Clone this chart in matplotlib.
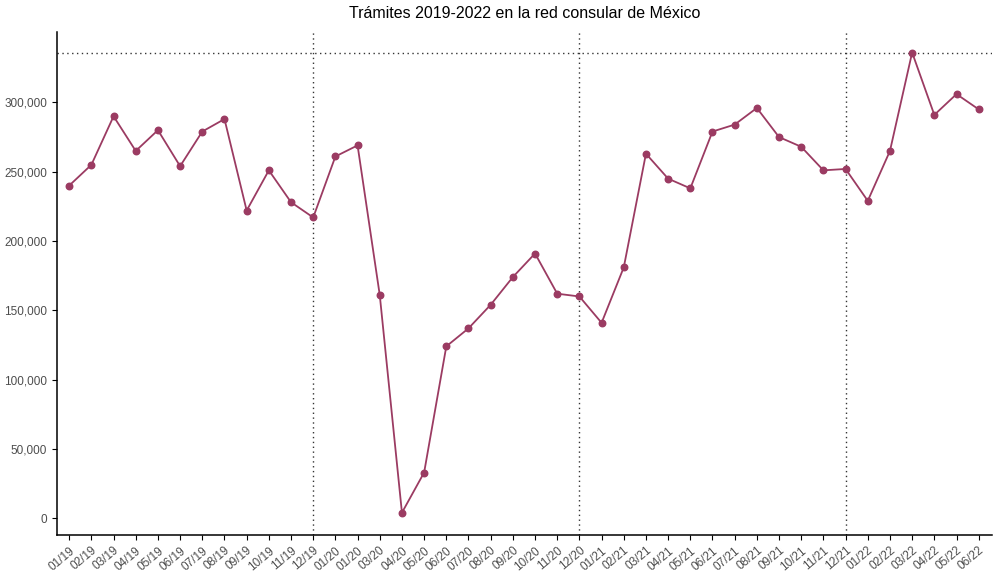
import matplotlib
matplotlib.use("Agg")
import matplotlib.pyplot as plt

labels = ["01/19","02/19","03/19","04/19","05/19","06/19","07/19","08/19","09/19","10/19","11/19","12/19",
          "01/20","01/20","03/20","04/20","05/20","06/20","07/20","08/20","09/20","10/20","11/20","12/20",
          "01/21","02/21","03/21","04/21","05/21","06/21","07/21","08/21","09/21","10/21","11/21","12/21",
          "01/22","02/22","03/22","04/22","05/22","06/22"]
values = [240000,255000,290000,265000,280000,254000,279000,288000,222000,251000,228000,217000,
          261000,269000,161000,4000,33000,124000,137000,154000,174000,191000,162000,160000,
          141000,181000,263000,245000,238000,279000,284000,296000,275000,268000,251000,252000,
          229000,265000,336000,291000,306000,295000]
vlines = ["12/19", "12/20", "12/21"]

plt.rcParams['font.family'] = ['Liberation Sans', 'DejaVu Sans']
fig = plt.figure(figsize=(10, 5.77), dpi=100)
ax = fig.add_axes([0.057, 0.073, 0.935, 0.872])
x = list(range(len(values)))
color = "#9b3b62"
ax.plot(x, values, color=color, lw=1.3)
ax.scatter(x, values, color=color, s=22, zorder=3)
for v in vlines:
    ax.axvline(labels.index(v), color="#333333", ls=(0, (1, 2.5)), lw=1)
ax.axhline(max(values), color="#333333", ls=(0, (1, 2.5)), lw=1)
ax.set_xlim(-0.55, len(values) - 0.4)
ax.set_ylim(-12000, 351000)
ax.set_xticks(x)
ax.set_xticklabels(labels, rotation=40, ha="right", rotation_mode="anchor", fontsize=8.5, color="#4d4d4d")
yt = list(range(0, 300001, 50000))
ax.set_yticks(yt)
ax.set_yticklabels([f"{t:,}" for t in yt], fontsize=8.5, color="#4d4d4d")
for s in ["top", "right"]:
    ax.spines[s].set_visible(False)
ax.spines["left"].set_linewidth(1.1)
ax.spines["bottom"].set_linewidth(1.1)
ax.set_title("Trámites 2019-2022 en la red consular de México", fontsize=11.5, pad=10)
fig.savefig("out.png", dpi=100)
